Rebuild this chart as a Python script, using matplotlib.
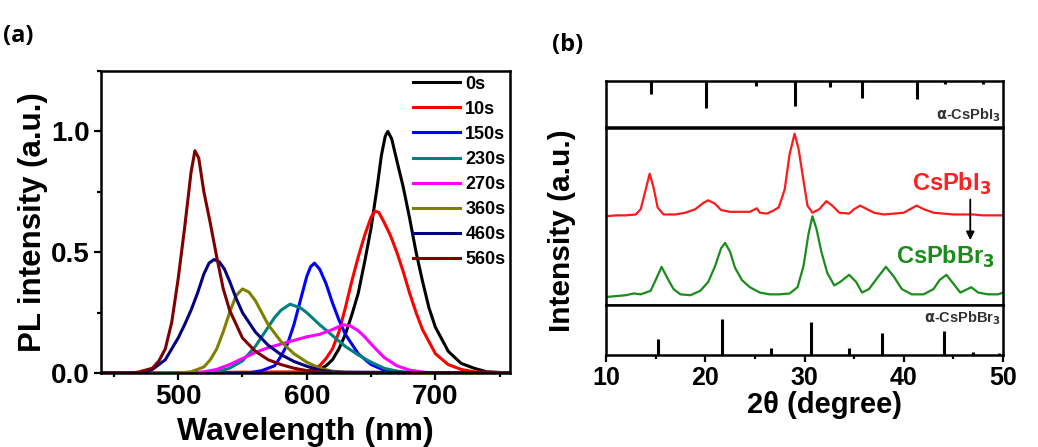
import matplotlib
matplotlib.use("Agg")
import matplotlib.pyplot as plt
from matplotlib.ticker import MultipleLocator

plt.rcParams['font.family'] = ['Liberation Sans', 'DejaVu Sans']
plt.rcParams['font.weight'] = 'bold'
plt.rcParams['axes.labelweight'] = 'bold'
plt.rcParams['mathtext.default'] = 'bf'

# ---- (a) PL spectra ----
labels_pl = ["0s", "10s", "150s", "230s", "270s", "360s", "460s", "560s"]
colors_pl = ["#000000", "#ff0000", "#0000ff", "#008080", "#ff00ff", "#808000", "#000080", "#800000"]

wl_0s = [440, 605, 610, 615, 620, 625, 630, 635, 640, 645, 650, 655, 658, 661, 663, 666, 670, 675, 680, 685,
         690, 695, 700, 710, 720, 730, 740, 760]
pl_0s = [0, 0, 0.015, 0.03, 0.055, 0.1, 0.16, 0.24, 0.33, 0.46, 0.6, 0.78, 0.9, 0.98, 1.0, 0.97, 0.88, 0.77,
         0.64, 0.5, 0.38, 0.27, 0.19, 0.09, 0.04, 0.02, 0.005, 0]

wl_10s = [440, 600, 610, 615, 620, 625, 630, 635, 640, 645, 650, 653, 656, 660, 665, 670, 675, 680, 685, 690,
          700, 710, 720, 730, 760]
pl_10s = [0, 0.005, 0.03, 0.06, 0.1, 0.17, 0.27, 0.38, 0.48, 0.57, 0.645, 0.67, 0.665, 0.625, 0.57, 0.5,
          0.42, 0.33, 0.25, 0.18, 0.08, 0.035, 0.015, 0.005, 0]

wl_150s = [440, 555, 565, 575, 580, 585, 590, 595, 600, 603, 606, 610, 615, 620, 625, 630, 640, 650, 660, 670,
           680, 760]
pl_150s = [0, 0, 0.01, 0.03, 0.07, 0.12, 0.2, 0.3, 0.4, 0.44, 0.455, 0.43, 0.37, 0.29, 0.22, 0.16, 0.08,
           0.035, 0.012, 0.003, 0, 0]

wl_230s = [440, 520, 530, 540, 550, 560, 570, 575, 580, 587, 595, 600, 610, 620, 630, 640, 650, 660, 670, 680,
           690, 760]
pl_230s = [0, 0, 0.005, 0.02, 0.05, 0.11, 0.19, 0.23, 0.26, 0.285, 0.27, 0.25, 0.2, 0.155, 0.11, 0.075, 0.045,
           0.02, 0.008, 0.002, 0, 0]

wl_270s = [440, 510, 520, 530, 540, 550, 560, 570, 580, 590, 600, 610, 620, 628, 634, 640, 645, 650, 660, 670,
           680, 690, 700, 760]
pl_270s = [0, 0, 0.005, 0.015, 0.035, 0.06, 0.085, 0.105, 0.12, 0.135, 0.15, 0.16, 0.18, 0.2, 0.195, 0.175,
           0.15, 0.12, 0.065, 0.03, 0.012, 0.004, 0, 0]

wl_360s = [440, 500, 510, 520, 525, 530, 535, 540, 545, 550, 555, 560, 565, 570, 580, 590, 600, 610, 620, 630,
           640, 760]
pl_360s = [0, 0, 0.005, 0.025, 0.055, 0.1, 0.17, 0.25, 0.32, 0.348, 0.335, 0.3, 0.25, 0.2, 0.13, 0.08, 0.045,
           0.02, 0.008, 0.002, 0, 0]

wl_460s = [440, 470, 480, 490, 500, 505, 510, 515, 520, 524, 528, 532, 536, 540, 545, 550, 560, 570, 580, 590,
           600, 610, 620, 760]
pl_460s = [0, 0, 0.015, 0.055, 0.145, 0.2, 0.26, 0.33, 0.41, 0.455, 0.47, 0.46, 0.43, 0.38, 0.31, 0.25, 0.17,
           0.115, 0.076, 0.048, 0.028, 0.012, 0.004, 0]

wl_560s = [440, 465, 470, 480, 485, 490, 495, 500, 505, 510, 513, 516, 520, 525, 530, 535, 540, 550, 560, 570,
           580, 590, 600, 620, 760]
pl_560s = [0, 0, 0.005, 0.02, 0.05, 0.1, 0.21, 0.39, 0.6, 0.83, 0.92, 0.89, 0.75, 0.62, 0.48, 0.35, 0.26,
           0.145, 0.09, 0.055, 0.035, 0.02, 0.01, 0, 0]

wl_all = [wl_0s, wl_10s, wl_150s, wl_230s, wl_270s, wl_360s, wl_460s, wl_560s]
pl_all = [pl_0s, pl_10s, pl_150s, pl_230s, pl_270s, pl_360s, pl_460s, pl_560s]

# ---- (b) XRD patterns ----
tth_i = [10, 11, 12, 13, 13.5, 14.0, 14.4, 14.8, 15.2, 15.8, 17, 18, 19, 19.8, 20.3, 21, 21.6, 22.5, 23.5,
         24.5, 25.2, 25.5, 26.2, 26.8, 27.4, 28.0, 28.5, 29.0, 29.4, 29.9, 30.3, 30.8, 31.5, 32.2, 32.8,
         33.5, 34.5, 35.0, 35.6, 36.3, 37, 38, 39, 40, 40.8, 41.3, 42, 43, 44, 45, 46, 47, 48, 49, 50]
xrd_i = [0.50, 0.505, 0.505, 0.51, 0.54, 0.65, 0.74, 0.66, 0.55, 0.51, 0.51, 0.52, 0.54, 0.575, 0.59, 0.57,
         0.535, 0.525, 0.525, 0.525, 0.545, 0.52, 0.515, 0.53, 0.55, 0.65, 0.85, 0.965, 0.88, 0.7, 0.56,
         0.52, 0.54, 0.585, 0.56, 0.52, 0.515, 0.54, 0.56, 0.54, 0.52, 0.51, 0.515, 0.52, 0.545, 0.56, 0.54,
         0.52, 0.515, 0.51, 0.51, 0.51, 0.505, 0.505, 0.505]

tth_br = [10, 11, 12, 12.8, 13.5, 14.5, 15.0, 15.6, 16.2, 16.8, 17.5, 18.5, 19.5, 20.3, 21.0, 21.6, 22.0,
          22.5, 23.0, 23.7, 24.5, 25.5, 26.5, 27.5, 28.5, 29.3, 29.9, 30.4, 30.8, 31.2, 31.7, 32.3, 33.0,
          33.6, 34.5, 35.2, 35.8, 36.5, 37.3, 38.2, 39.0, 39.8, 40.8, 42, 43, 43.6, 44.3, 45, 45.7, 46.8,
          47.5, 48.5, 49.5, 50]
xrd_br = [0.045, 0.05, 0.055, 0.065, 0.06, 0.08, 0.14, 0.215, 0.15, 0.09, 0.06, 0.055, 0.08, 0.13, 0.22,
          0.32, 0.35, 0.3, 0.21, 0.14, 0.1, 0.07, 0.06, 0.06, 0.065, 0.1, 0.22, 0.4, 0.5, 0.43, 0.3, 0.18,
          0.11, 0.13, 0.17, 0.13, 0.07, 0.09, 0.15, 0.215, 0.16, 0.09, 0.06, 0.06, 0.09, 0.14, 0.17, 0.12,
          0.07, 0.1, 0.07, 0.06, 0.06, 0.07]

ref_i_pos = [14.5, 20.1, 25.1, 29.0, 32.6, 35.8, 41.3, 44.2, 48.0]
ref_i_int = [0.28, 0.58, 0.11, 0.55, 0.13, 0.37, 0.39, 0.08, 0.08]
ref_br_pos = [15.2, 21.7, 26.6, 30.7, 34.5, 37.8, 44.1, 47.0, 49.6]
ref_br_int = [0.32, 0.72, 0.14, 0.66, 0.14, 0.44, 0.48, 0.07, 0.05]

fig = plt.figure(figsize=(10.38, 4.47), dpi=100)

# ---------------- panel (a) ----------------
ax = fig.add_axes([0.0973, 0.1655, 0.394, 0.6756])
for x, y, c, lab in zip(wl_all, pl_all, colors_pl, labels_pl):
    ax.plot(x, y, color=c, lw=2.2, label=lab, solid_joinstyle='round')
ax.set_xlim(440, 758)
ax.set_ylim(0, 1.25)
ax.xaxis.set_major_locator(MultipleLocator(100))
ax.xaxis.set_minor_locator(MultipleLocator(50))
ax.yaxis.set_major_locator(MultipleLocator(0.5))
ax.yaxis.set_minor_locator(MultipleLocator(0.25))
ax.tick_params(which='both', direction='out', width=1.6, labelsize=20)
ax.tick_params(which='major', length=5, pad=3)
ax.tick_params(which='minor', length=3)
for s in ax.spines.values():
    s.set_linewidth(1.8)
ax.set_xlabel("Wavelength (nm)", fontsize=23, labelpad=5)
ax.set_ylabel("PL intensity (a.u.)", fontsize=22.5, labelpad=2)
ax.legend(loc='upper right', frameon=False, fontsize=13, handlelength=2.6,
          handletextpad=0.3, labelspacing=0.45, borderaxespad=0.15, borderpad=0.1)
fig.text(0.003, 0.905, "(a)", fontsize=17, fontweight='bold', family='Open Sans')

# ---------------- panel (b) ----------------
left, width = 0.5838, 0.3825
ax_top = fig.add_axes([left, 0.7148, width, 0.105])
ax_mid = fig.add_axes([left, 0.3177, width, 0.397])
ax_bot = fig.add_axes([left, 0.2058, width, 0.1119])

for a in (ax_top, ax_mid, ax_bot):
    a.set_xlim(10, 50)
    a.set_ylim(0, 1)
    a.set_yticks([])
    for s in a.spines.values():
        s.set_linewidth(1.8)
ax_top.set_xticks([])
ax_mid.set_xticks([])

ax_top.vlines(ref_i_pos, [1 - h for h in ref_i_int], 1, color='black', lw=2.2)
ax_top.text(0.995, 0.08, r"$\alpha$-CsPbI$_3$", transform=ax_top.transAxes,
            ha='right', va='bottom', fontsize=10.5, color='#333333')

ax_mid.plot(tth_i, xrd_i, color='#ff1a1a', lw=1.6, solid_joinstyle='round')
ax_mid.plot(tth_br, xrd_br, color='#1a8c1a', lw=1.6, solid_joinstyle='round')
ax_mid.text(44.8, 0.68, "CsPbI$_3$", color='#ff2020', fontsize=17, ha='center', va='center')
ax_mid.text(44.2, 0.27, "CsPbBr$_3$", color='#1a8c1a', fontsize=17, ha='center', va='center')
ax_mid.annotate("", xy=(46.7, 0.35), xytext=(46.7, 0.61),
                arrowprops=dict(arrowstyle='-|>', color='black', lw=1.3, mutation_scale=12))
ax_mid.set_ylabel("Intensity (a.u.)", fontsize=21.5)
ax_mid.yaxis.set_label_coords(-0.075, 0.42)

ax_bot.vlines(ref_br_pos, 0, ref_br_int, color='black', lw=2.2)
ax_bot.text(0.995, 0.92, r"$\alpha$-CsPbBr$_3$", transform=ax_bot.transAxes,
            ha='right', va='top', fontsize=10.5, color='#333333')
ax_bot.xaxis.set_major_locator(MultipleLocator(10))
ax_bot.xaxis.set_minor_locator(MultipleLocator(5))
ax_bot.tick_params(which='both', direction='out', width=1.6, labelsize=18)
ax_bot.tick_params(which='major', length=5, pad=3)
ax_bot.tick_params(which='minor', length=3)
ax_bot.set_xlabel("2θ (degree)", fontsize=21, labelpad=0)
ax_bot.xaxis.set_label_coords(0.55, -0.72)
fig.text(0.532, 0.885, "(b)", fontsize=17, fontweight='bold', family='Open Sans')

fig.savefig("out.png", dpi=100)
